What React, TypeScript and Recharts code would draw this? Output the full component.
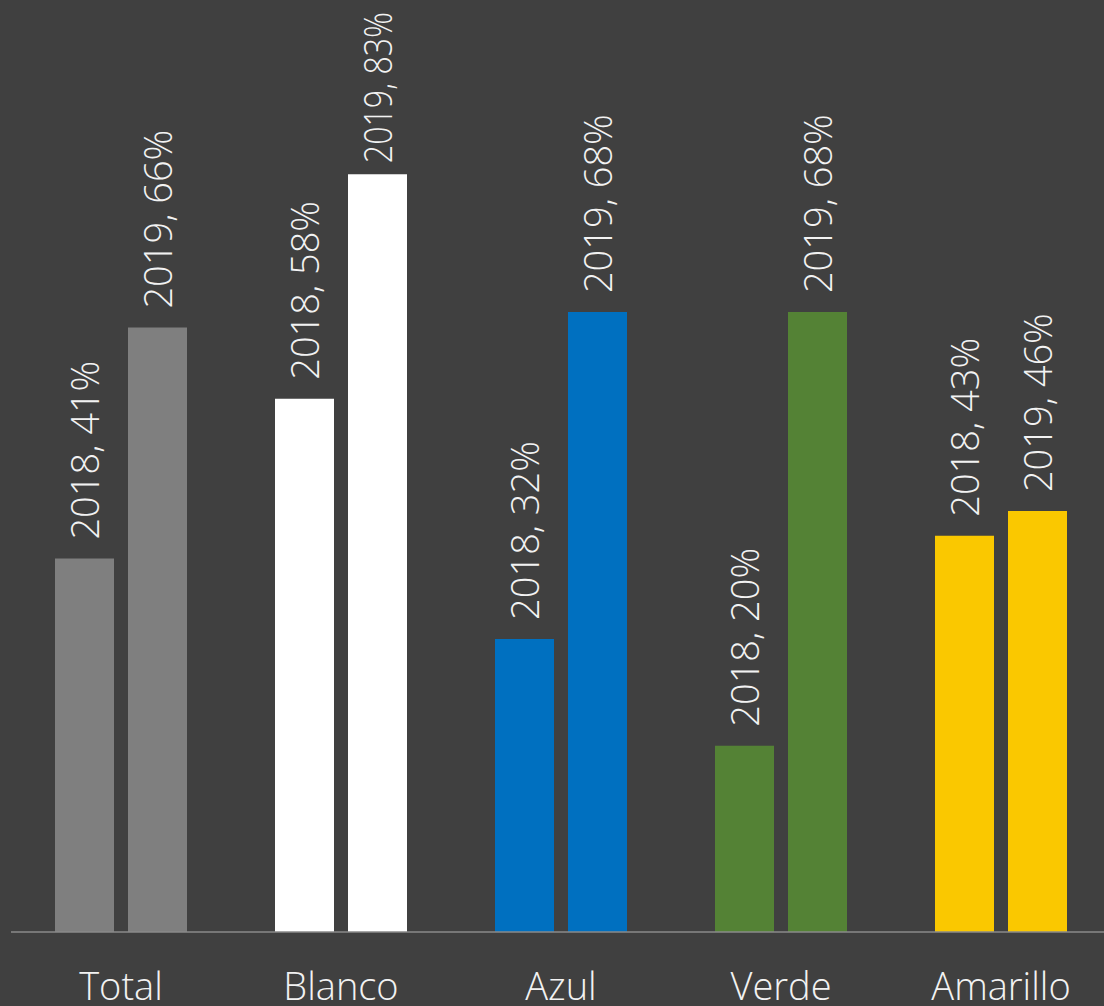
import React from 'react';
import { BarChart, Bar, XAxis, YAxis, Cell, LabelList } from 'recharts';

// valores (porcentaje)
const categorias = ['Total', 'Blanco', 'Azul', 'Verde', 'Amarillo'];
const valores2018 = [40.9, 58.4, 32.1, 20.4, 43.4];
const valores2019 = [66.2, 83.0, 67.9, 67.9, 46.1];
const colores = ['#7f7f7f', '#ffffff', '#0070c0', '#548235', '#fac800'];

const data = categorias.map((cat, i) => ({
  cat,
  v2018: valores2018[i],
  v2019: valores2019[i],
}));

const FONT = "'Segoe UI Light', 'Open Sans', sans-serif";
const FONT_SIZE = 38;
const LABEL_LEN = 175;

const renderLabel = (year: string) => (props: any) => {
  const { x, y, width, value } = props;
  const cx = Number(x) + Number(width) / 2 + FONT_SIZE * 0.38;
  let start = Number(y) - 19;
  let textLength: number | undefined;
  if (start - LABEL_LEN < 10) {
    // no cabe arriba: se comprime como en el original
    start = Number(y) - 11;
    textLength = start - 12;
  }
  return (
    <text
      x={cx}
      y={start}
      transform={`rotate(-90, ${cx}, ${start})`}
      textAnchor="start"
      fill="#f2f2f2"
      fontSize={FONT_SIZE}
      fontWeight={300}
      fontFamily={FONT}
      textLength={textLength}
      lengthAdjust={textLength ? 'spacingAndGlyphs' : undefined}
    >
      {`${year}, ${Math.round(Number(value))}%`}
    </text>
  );
};

const CategoryTick = ({ x, y, payload }: any) => (
  <text
    x={x}
    y={y + 68}
    textAnchor="middle"
    fill="#f2f2f2"
    fontSize={FONT_SIZE}
    fontWeight={300}
    fontFamily={FONT}
  >
    {payload.value}
  </text>
);

export default function App() {
  return (
    <div
      style={{
        position: 'absolute',
        left: 0,
        top: 0,
        width: 1104,
        height: 1006,
        overflow: 'hidden',
        background: '#404040',
      }}
    >
      <BarChart
        width={1112}
        height={1006}
        data={data}
        margin={{ top: 19, right: 1, left: 11, bottom: 0 }}
        barCategoryGap={44}
        barGap={14}
      >
        <XAxis
          dataKey="cat"
          height={74}
          tickSize={0}
          tickMargin={0}
          tickLine={false}
          axisLine={{ stroke: '#8a8a8a', strokeWidth: 1.5 }}
          tick={<CategoryTick />}
          interval={0}
        />
        <YAxis hide domain={[0, 100]} />
        <Bar dataKey="v2018" isAnimationActive={false}>
          {data.map((d, i) => (
            <Cell key={d.cat} fill={colores[i]} />
          ))}
          <LabelList dataKey="v2018" content={renderLabel('2018')} />
        </Bar>
        <Bar dataKey="v2019" isAnimationActive={false}>
          {data.map((d, i) => (
            <Cell key={d.cat} fill={colores[i]} />
          ))}
          <LabelList dataKey="v2019" content={renderLabel('2019')} />
        </Bar>
      </BarChart>
    </div>
  );
}
